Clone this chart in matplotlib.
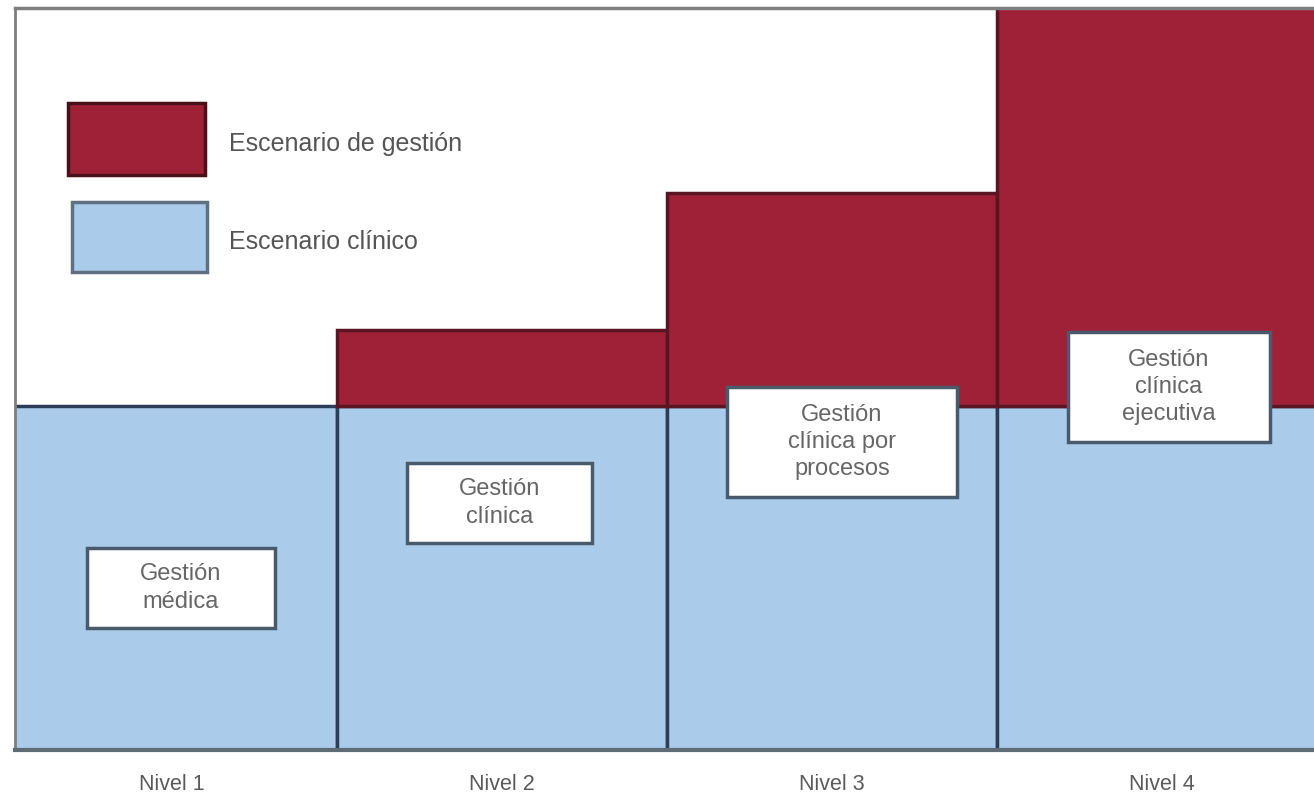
import matplotlib
matplotlib.use("Agg")
import matplotlib.pyplot as plt
from matplotlib.patches import Rectangle

# Data
niveles = ["Nivel 1", "Nivel 2", "Nivel 3", "Nivel 4"]
escenario_clinico = [1.0, 1.0, 1.0, 1.0]
escenario_gestion = [0.0, 0.22, 0.62, 1.16]
etiquetas = ["Gestión\nmédica", "Gestión\nclínica", "Gestión\nclínica por\nprocesos",
             "Gestión\nclínica\nejecutiva"]
leyenda = ["Escenario de gestión", "Escenario clínico"]

plt.rcParams["font.family"] = ["Liberation Sans", "DejaVu Sans"]

W, H = 1314, 795
fig = plt.figure(figsize=(W / 100, H / 100), dpi=100)
left_px, right_px, top_px, bot_px = 15, 1327, 8, 750
ax = fig.add_axes([left_px / W, (H - bot_px) / H, (right_px - left_px) / W, (bot_px - top_px) / H])

red = "#9e2137"
blue = "#abcbeb"
x = list(range(len(niveles)))
ax.bar(x, escenario_clinico, width=1.0, color=blue, edgecolor="#2b3e57", linewidth=2.5, zorder=2)
red_edges = ["#5a1522" if v > 0 else "none" for v in escenario_gestion]
ax.bar(x, escenario_gestion, width=1.0, bottom=escenario_clinico, color=red,
       edgecolor=red_edges, linewidth=2.5, zorder=2)

ax.set_xlim(-0.476, 3.5)
ax.set_ylim(0, 2.157)
ax.set_xticks(x)
ax.set_xticklabels(niveles, fontsize=15.5, color="#5a5a5a")
ax.tick_params(axis="x", length=0, pad=17)
ax.set_yticks([])
ax.spines["right"].set_visible(False)
ax.spines["top"].set_color("#7f7f7f")
ax.spines["top"].set_linewidth(2.5)
ax.spines["left"].set_color("#7f7f7f")
ax.spines["left"].set_linewidth(2.0)
ax.spines["bottom"].set_color("#5f6b77")
ax.spines["bottom"].set_linewidth(3)
ax.spines["top"].set_zorder(3)


def fx(px):
    return px / W


def fy(py):
    return 1 - py / H


# Legend swatches
for (x0, y0, x1, y1), col, ec, lab in [((68, 103, 205, 175), red, "#4a1018", leyenda[0]),
                                       ((72, 202, 207, 272), blue, "#5f7080", leyenda[1])]:
    fig.patches.append(Rectangle((fx(x0), fy(y1)), fx(x1) - fx(x0), fy(y0) - fy(y1),
                                 transform=fig.transFigure, facecolor=col, edgecolor=ec,
                                 linewidth=2.5, zorder=5))
    fig.text(fx(229), fy((y0 + y1) / 2 + 5), lab, fontsize=18, color="#555555",
             va="center", ha="left", zorder=6)

# Label boxes
boxes = [(87, 548, 275, 628), (407, 463, 592, 543), (727, 387, 957, 497), (1068, 332, 1270, 442)]
for (x0, y0, x1, y1), txt in zip(boxes, etiquetas):
    fig.patches.append(Rectangle((fx(x0), fy(y1)), fx(x1) - fx(x0), fy(y0) - fy(y1),
                                 transform=fig.transFigure, facecolor="white", edgecolor="#485a6c",
                                 linewidth=2.5, zorder=5))
    fig.text(fx((x0 + x1) / 2), fy((y0 + y1) / 2), txt, fontsize=17, color="#666666",
             va="center", ha="center", linespacing=1.3, zorder=6)

fig.savefig("out.png", dpi=100)
